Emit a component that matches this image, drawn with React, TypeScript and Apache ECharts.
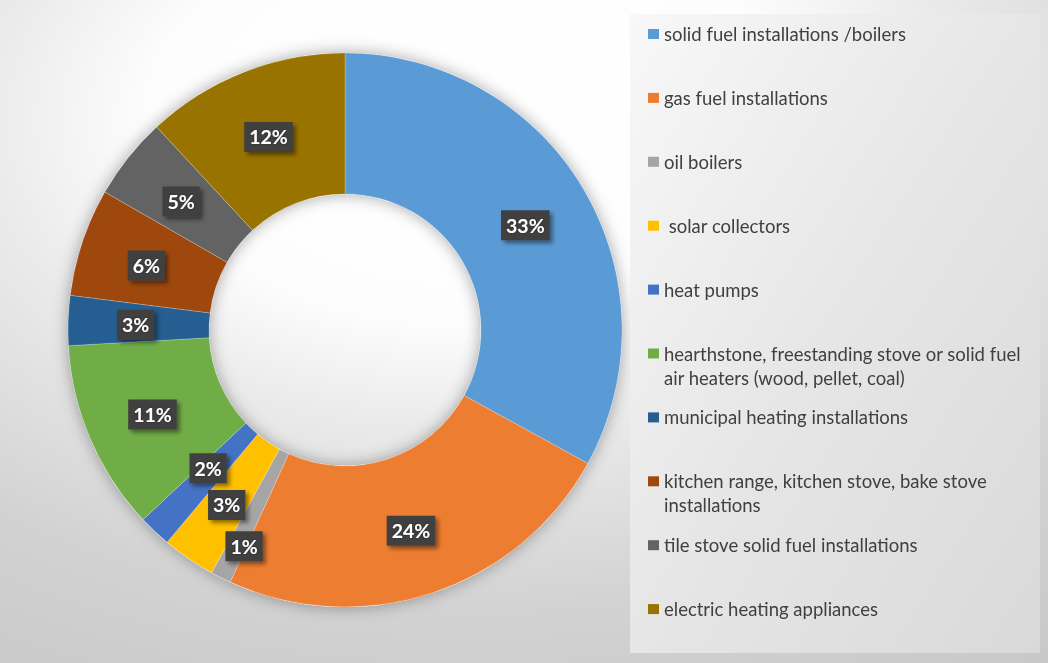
import React, { useEffect, useRef } from "react";
import * as echarts from "echarts";

const categories = [
  "solid fuel installations /boilers",
  "gas fuel installations",
  "oil boilers",
  " solar collectors",
  "heat pumps",
  "hearthstone, freestanding stove or solid fuel air heaters (wood, pellet, coal)",
  "municipal heating installations",
  "kitchen range, kitchen stove, bake stove installations",
  "tile stove solid fuel installations",
  "electric heating appliances",
];
const values = [33.0, 23.8, 1.2, 3.1, 1.9, 11.1, 2.9, 6.3, 4.8, 11.9];
const colors = [
  "#5B9BD5", "#ED7D31", "#A5A5A5", "#FFC000", "#4472C4",
  "#70AD47", "#255E91", "#9E480E", "#636363", "#997300",
];
// small label nudges (px) to mimic the reference's overlap avoidance
const labelNudges: [number, number][] = [
  [0, 0], [0, 0], [-7, 27], [0, 0], [7, -16], [0, 0], [0, 0], [0, 0], [0, 0], [0, 0],
];

const W = 1048;
const H = 663;
const CENTER = [345, 330];
const RADIUS = [136, 277];
const FONT = "Lato";

export default function App() {
  const ref = useRef<HTMLDivElement>(null);
  useEffect(() => {
    if (!ref.current) return;
    const chart = echarts.init(ref.current, undefined, { renderer: "svg", width: W, height: H });

    const legendX = 648;
    const legendTop = 34;
    const legendStep = 63.9;
    const legendEls: any[] = [];
    categories.forEach((name, i) => {
      const cy = legendTop + i * legendStep;
      legendEls.push({
        type: "rect",
        shape: { x: legendX, y: cy - 5, width: 11, height: 10 },
        style: { fill: colors[i] },
        z: 20,
      });
      legendEls.push({
        type: "text",
        x: 664,
        y: cy - 12,
        style: {
          text: name,
          fill: "#404040",
          fontFamily: FONT,
          fontSize: 18.5,
          lineHeight: 24,
          width: 364,
          overflow: "break",
          verticalAlign: "top",
          align: "left",
        },
        z: 20,
      });
    });

    const option: any = {
      animation: false,
      graphic: [
        {
          type: "rect",
          shape: { x: 0, y: 0, width: W, height: H },
          style: {
            fill: new echarts.graphic.RadialGradient(0.45, 0.18, 1.09, [
              { offset: 0, color: "#ffffff" },
              { offset: 0.28, color: "#fdfdfd" },
              { offset: 0.42, color: "#ebebeb" },
              { offset: 0.68, color: "#d2d2d2" },
              { offset: 1, color: "#c4c4c4" },
            ]),
          },
          z: -100,
          silent: true,
        },
        {
          type: "rect",
          shape: { x: 630, y: 14, width: 410, height: 639 },
          style: {
            fill: new echarts.graphic.LinearGradient(0, 0, 1, 1, [
              { offset: 0, color: "#f8f8f8" },
              { offset: 0.5, color: "#e6e6e6" },
              { offset: 1, color: "#d9d9d9" },
            ]),
          },
          z: 10,
          silent: true,
        },
        ...legendEls,
      ],
      series: [
        {
          type: "pie",
          silent: true,
          center: CENTER,
          radius: RADIUS,
          startAngle: 90,
          z: 1,
          label: { show: false },
          labelLine: { show: false },
          itemStyle: {
            color: "#ffffff",
            shadowBlur: 16,
            shadowColor: "rgba(0,0,0,0.35)",
          },
          data: [{ value: 1, name: "" }],
        },
        {
          type: "pie",
          center: CENTER,
          radius: RADIUS,
          startAngle: 90,
          clockwise: true,
          avoidLabelOverlap: false,
          z: 2,
          itemStyle: {
            borderColor: "rgba(255,255,255,0.35)",
            borderWidth: 0.6,
          },
          label: {
            show: true,
            position: "inside",
            formatter: (p: any) => `${Math.round(p.percent)}%`,
            color: "#ffffff",
            fontFamily: FONT,
            fontWeight: "bold",
            fontSize: 19.5,
            lineHeight: 21,
            backgroundColor: "#404040",
            padding: [5, 5, 4, 5],
            shadowColor: "rgba(0,0,0,0.45)",
            shadowBlur: 4,
            shadowOffsetX: 3,
            shadowOffsetY: 3,
            textShadowColor: "rgba(0,0,0,0.4)",
            textShadowBlur: 2,
          },
          labelLine: { show: false },
          labelLayout: (p: any) => {
            const n = labelNudges[p.dataIndex] || [0, 0];
            return { dx: n[0], dy: n[1] + 2 };
          },
          data: categories.map((name, i) => ({
            name,
            value: values[i],
            itemStyle: { color: colors[i] },
          })),
        },
      ],
    };
    chart.setOption(option);
    return () => chart.dispose();
  }, []);

  return (
    <div
      ref={ref}
      style={{ position: "fixed", left: 0, top: 0, width: W, height: H }}
    />
  );
}
